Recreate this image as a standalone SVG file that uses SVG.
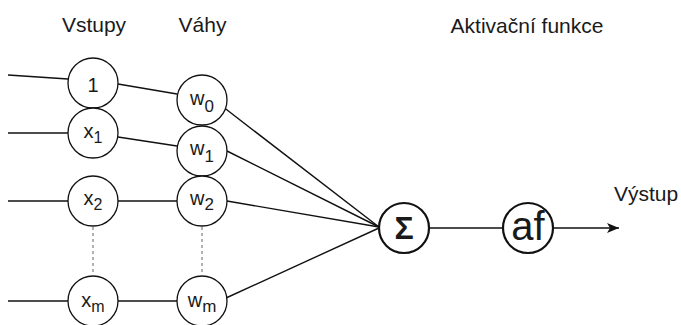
<svg xmlns="http://www.w3.org/2000/svg" width="681" height="325" viewBox="0 0 681 325">
<style>
  text { font-family: "Liberation Sans", Arial, sans-serif; fill: #1a1a1a; }
  .title { font-size: 21px; }
  .lbl { font-size: 20px; text-anchor: middle; }
  .sub { font-size: 16px; }
  .wsub { font-size: 17px; }
  .node { fill: #fff; stroke: #111; stroke-width: 1.3; }
  .bold { fill: #fff; stroke: #111; stroke-width: 2.2; }
  .edge { stroke: #111; stroke-width: 1.4; fill: none; }
  .dot { stroke: #888; stroke-width: 1.3; stroke-dasharray: 3 3; fill: none; }
</style>
<defs>
  <marker id="arr" markerWidth="12" markerHeight="10" refX="12" refY="5" orient="auto" markerUnits="userSpaceOnUse">
    <path d="M0,0 L12,5 L0,10 L3,5 Z" fill="#111"/>
  </marker>
</defs>

<g id="headers">
  <text class="title" x="94" y="32" text-anchor="middle">Vstupy</text>
  <text class="title" x="202.5" y="32" text-anchor="middle">Váhy</text>
  <text class="title" x="527" y="33" text-anchor="middle">Aktivační funkce</text>
  <text class="title" x="614" y="201">Výstup</text>
</g>

<g id="connectors">
  <line class="edge" x1="8" y1="75" x2="68" y2="79"/>
  <line class="edge" x1="8" y1="133" x2="68" y2="133"/>
  <line class="edge" x1="8" y1="201" x2="68" y2="201"/>
  <line class="edge" x1="8" y1="301" x2="68" y2="301"/>
  <line class="edge" x1="118" y1="84" x2="177" y2="94"/>
  <line class="edge" x1="118" y1="137" x2="177" y2="146"/>
  <line class="edge" x1="118" y1="201" x2="177" y2="201"/>
  <line class="edge" x1="118" y1="301" x2="177" y2="301"/>
  <line class="dot" x1="93" y1="227" x2="93" y2="275"/>
  <line class="dot" x1="202" y1="227" x2="202" y2="275"/>
  <line class="edge" x1="225.5" y1="108.8" x2="379" y2="227"/>
  <line class="edge" x1="227" y1="151" x2="379" y2="227"/>
  <line class="edge" x1="227" y1="201" x2="379" y2="227"/>
  <line class="edge" x1="226" y1="298" x2="379" y2="228"/>
  <line class="edge" x1="429" y1="228" x2="503" y2="228"/>
  <line class="edge" x1="553" y1="228" x2="619" y2="228" marker-end="url(#arr)"/>
</g>

<g id="in1"><circle class="node" cx="93" cy="83" r="25"/><text class="lbl" x="93" y="92">1</text></g>
<g id="x1"><circle class="node" cx="93" cy="133" r="25"/><text class="lbl" x="93" y="138">x<tspan class="sub" dy="5">1</tspan></text></g>
<g id="x2"><circle class="node" cx="93" cy="201" r="25"/><text class="lbl" x="93" y="205">x<tspan class="sub" dy="5">2</tspan></text></g>
<g id="xm"><circle class="node" cx="93" cy="301" r="25"/><text class="lbl" x="93" y="307">x<tspan class="sub" dy="5">m</tspan></text></g>

<g id="w0"><circle class="node" cx="202" cy="100" r="25"/><text class="lbl" x="202" y="105">w<tspan class="wsub" dy="7">0</tspan></text></g>
<g id="w1"><circle class="node" cx="202" cy="151" r="25"/><text class="lbl" x="202" y="155">w<tspan class="wsub" dy="7">1</tspan></text></g>
<g id="w2"><circle class="node" cx="202" cy="201" r="25"/><text class="lbl" x="202" y="205">w<tspan class="wsub" dy="5">2</tspan></text></g>
<g id="wm"><circle class="node" cx="202" cy="301" r="25"/><text class="lbl" x="202" y="307">w<tspan class="wsub" dy="5">m</tspan></text></g>

<g id="sigma"><circle class="bold" cx="404" cy="228" r="25"/><text x="404" y="238.5" text-anchor="middle" font-size="32" font-weight="bold">Σ</text></g>
<g id="af"><circle class="bold" cx="528" cy="228" r="25"/><text x="528" y="240" text-anchor="middle" font-size="40">af</text></g>
</svg>
